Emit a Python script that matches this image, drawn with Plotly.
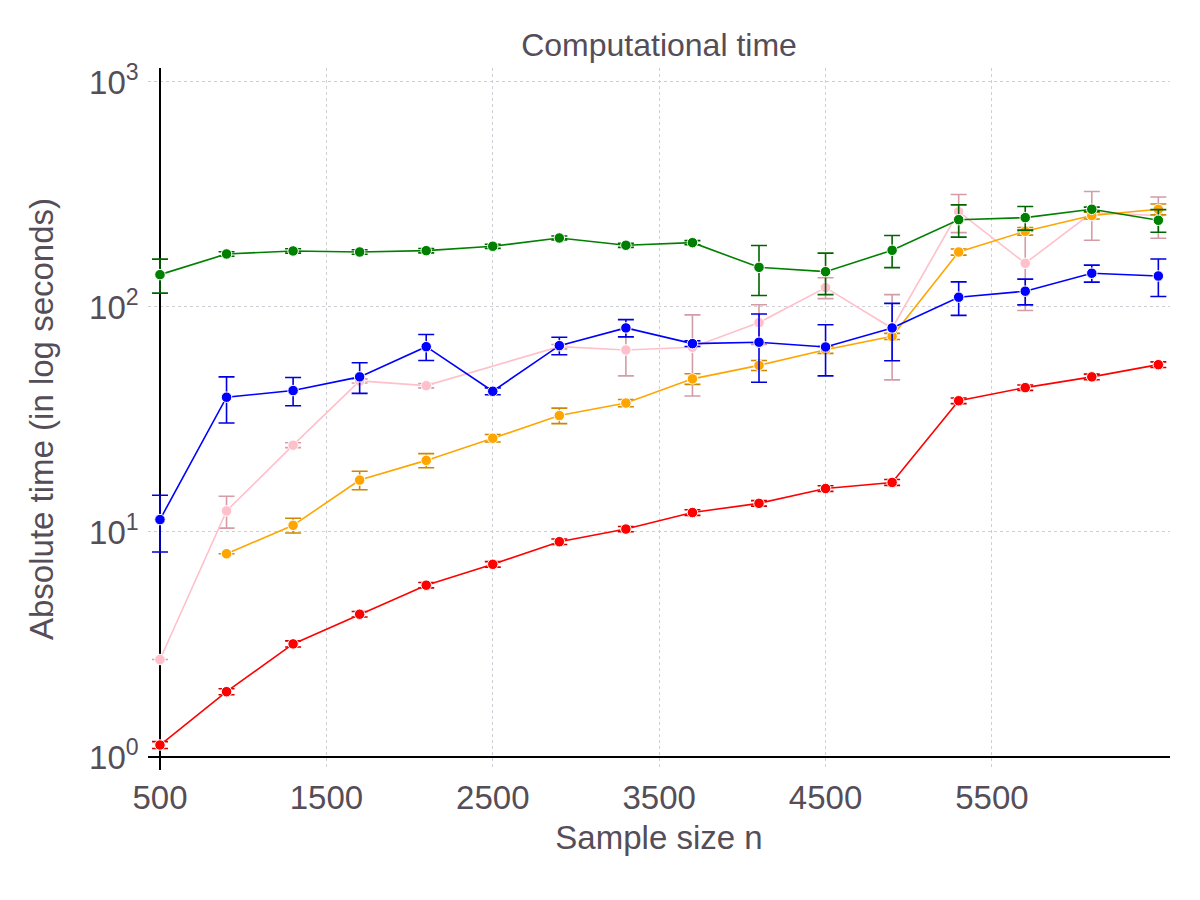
import plotly.graph_objects as go

sample_size = [500, 900, 1300, 1700, 2100, 2500, 2900, 3300, 3700, 4100, 4500, 4900, 5300, 5700, 6100, 6500]

red_vals = [1.13, 1.95, 3.18, 4.31, 5.80, 7.18, 9.05, 10.3, 12.2, 13.4, 15.6, 16.6, 38.3, 43.8, 48.9, 55.4]
red_err = [0.04, 0.06, 0.10, 0.12, 0.16, 0.20, 0.25, 0.28, 0.35, 0.38, 0.45, 0.50, 1.1, 1.2, 1.4, 1.6]

orange_vals = [None, 8.0, 10.7, 17.0, 20.8, 26.1, 32.9, 37.4, 47.9, 55.0, 64.5, 74.0, 175.5, 217.0, 255.0, 271.6]
orange_err = [0, 0, 0.8, 1.6, 1.5, 1.0, 2.6, 1.4, 2.6, 2.8, 2.3, 2.3, 5.5, 8.5, 9.0, 15.0]

pink_vals = [2.71, 12.4, 24.3, 46.9, 44.7, None, 66.6, 64.4, 66.2, 85.2, 121.9, 80.4, 265.0, 156.4, 262.0, 255.0]
pink_err = [0, 2.0, 0.6, 1.0, 1.0, 0, 1.5, 15.0, 26.0, 17.0, 13.0, 33.0, 51.0, 60.0, 64.0, 53.0]

green_vals = [139.2, 172.0, 177.4, 175.5, 177.9, 186.1, 202.6, 188.0, 193.1, 150.0, 143.5, 178.6, 244.3, 249.5, 271.8, 242.8]
green_err = [24.0, 4.0, 4.0, 4.0, 4.0, 4.0, 4.0, 4.0, 4.0, 37.5, 30.0, 29.0, 40.0, 30.0, 6.0, 28.0]

blue_vals = [11.35, 39.7, 42.5, 48.9, 66.6, 42.2, 67.3, 80.7, 68.7, 69.7, 66.4, 80.7, 110.5, 117.5, 141.2, 137.3]
blue_err = [3.2, 9.2, 6.1, 7.6, 8.8, 1.5, 6.0, 7.1, 2.0, 23.4, 17.0, 23.0, 18.8, 15.4, 12.3, 26.0]

x_ticks = [500, 1500, 2500, 3500, 4500, 5500]
y_ticks = [1, 10, 100, 1000]
y_ticktext = ["10<sup>0</sup>", "10<sup>1</sup>", "10<sup>2</sup>", "10<sup>3</sup>"]

series = [
    ("pink", pink_vals, pink_err, "pink", "#d49ca6"),
    ("orange", orange_vals, orange_err, "orange", "#cc8800"),
    ("red", red_vals, red_err, "red", "#d00000"),
    ("green", green_vals, green_err, "green", "#006400"),
    ("blue", blue_vals, blue_err, "blue", "#0000e0"),
]

fig = go.Figure()
for name, vals, err, col, ecol in series:
    fig.add_trace(go.Scatter(
        x=sample_size, y=vals, name=name, mode="lines+markers",
        connectgaps=True,
        line=dict(color=col, width=1.6),
        marker=dict(color=col, size=10.5, line=dict(color="white", width=1)),
        error_y=dict(type="data", array=err, visible=True, color=ecol, thickness=1.6, width=8),
        showlegend=False,
    ))

x_range = [428, 6570]
y_range = [-0.058, 3.062]
txt = "#554d57"
font_family = "Liberation Sans, Arial, sans-serif"

y_one_paper = (0 - y_range[0]) / (y_range[1] - y_range[0])
x_500_paper = (500 - x_range[0]) / (x_range[1] - x_range[0])

fig.update_layout(
    width=1200, height=900,
    paper_bgcolor="white", plot_bgcolor="white",
    margin=dict(l=148, r=30, t=68, b=130),
    font=dict(family=font_family, color=txt, size=33),
    title=dict(text="Computational time", x=0.5, xref="paper", y=1 - 45 / 900,
               yref="container", xanchor="center", yanchor="middle",
               font=dict(size=32, color=txt)),
    xaxis=dict(
        range=x_range, tickvals=x_ticks, showgrid=True, gridcolor="#cfcfd6",
        griddash="dot", gridwidth=1, zeroline=False,
        showline=True, linecolor="black", linewidth=1.5, layer="below traces",
        anchor="free", position=y_one_paper,
        ticks="", ticklabelstandoff=12,
        tickfont=dict(size=33, color=txt),
        title=dict(text="Sample size n", font=dict(size=33, color=txt), standoff=10),
    ),
    yaxis=dict(
        type="log", range=y_range, tickvals=y_ticks, ticktext=y_ticktext,
        showgrid=True, gridcolor="#cfcfd6", griddash="dot", gridwidth=1,
        zeroline=False,
        showline=True, linecolor="black", linewidth=1.5, layer="below traces",
        anchor="free", position=x_500_paper,
        ticks="", ticklabelstandoff=14,
        tickfont=dict(size=33, color=txt),
        title=dict(text="Absolute time (in log seconds)", font=dict(size=33, color=txt), standoff=25),
    ),
)

fig.write_html("out.html")
